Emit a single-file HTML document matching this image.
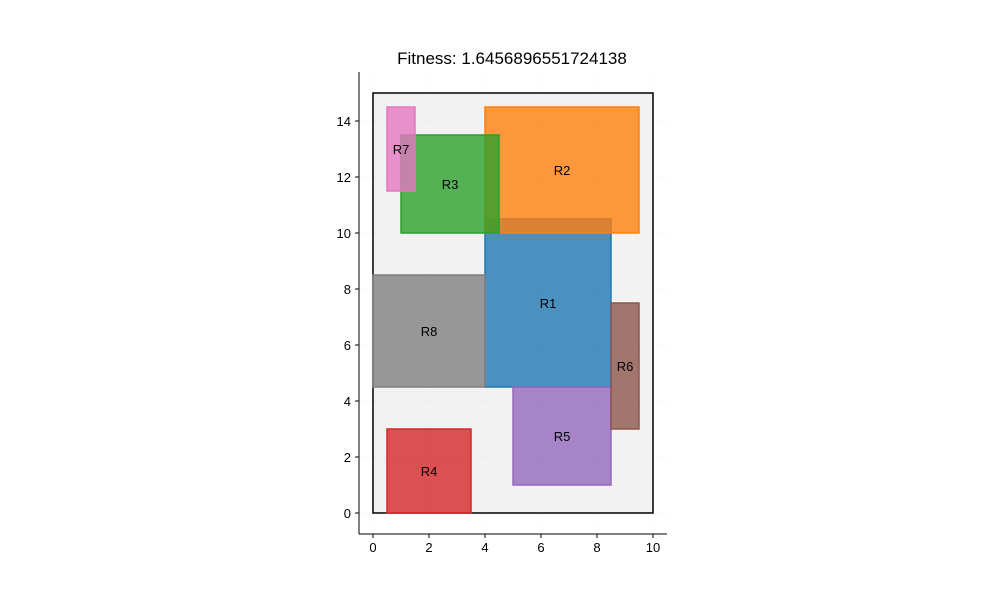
<!DOCTYPE html>
<html><head><meta charset="utf-8"><style>body{margin:0;background:#fff}svg{display:block;font-family:"Liberation Sans",sans-serif}</style></head>
<body>
<svg id="chart" width="1000" height="600" viewBox="0 0 1000 600">
<rect width="1000" height="600" fill="#fff"/>
<text x="512" y="64" text-anchor="middle" font-size="17" fill="#000">Fitness: 1.6456896551724138</text>
<g id="grid"></g><g id="marks"></g><g id="axes"></g>
</svg>
<script>
const names = ["R1","R2","R3","R4","R5","R6","R7","R8"];
const x0s = [4, 4, 1, 0.5, 5, 8.5, 0.5, 0];
const x1s = [8.5, 9.5, 4.5, 3.5, 8.5, 9.5, 1.5, 4];
const y0s = [4.5, 10, 10, 0, 1, 3, 11.5, 4.5];
const y1s = [10.5, 14.5, 13.5, 3, 4.5, 7.5, 14.5, 8.5];
const colors = ["#1f77b4","#ff7f0e","#2ca02c","#d62728","#9467bd","#8c564b","#e377c2","#7f7f7f"];
const container = [0, 10, 0, 15];
const xTicks = [0,2,4,6,8,10];
const yTicks = [0,2,4,6,8,10,12,14];
const NS="http://www.w3.org/2000/svg";
const X=v=>373+v*28, Y=v=>513-v*28;
function mk(t,a,p){const e=document.createElementNS(NS,t);for(const k in a)e.setAttribute(k,a[k]);p.appendChild(e);return e;}
const grid=document.getElementById('grid'),marks=document.getElementById('marks'),axes=document.getElementById('axes');
xTicks.forEach(t=>{const l=mk('line',{x1:X(t),x2:X(t),y1:72,y2:534,stroke:'#eee','stroke-width':0.5,'stroke-dasharray':'4,4'},grid);
});
yTicks.forEach(t=>{const l=mk('line',{x1:359,x2:667,y1:Y(t),y2:Y(t),stroke:'#eee','stroke-width':0.5,'stroke-dasharray':'4,4'},grid);
});
const c=mk('rect',{x:X(container[0]),y:Y(container[3]),width:X(container[1])-X(container[0]),height:Y(container[2])-Y(container[3]),fill:'rgba(128,128,128,0.1)',stroke:'#000','stroke-width':1.5},marks);

names.forEach((n,i)=>{
 const r=mk('rect',{x:X(x0s[i]),y:Y(y1s[i]),width:X(x1s[i])-X(x0s[i]),height:Y(y0s[i])-Y(y1s[i]),fill:colors[i],'fill-opacity':0.8,stroke:colors[i],'stroke-width':1.5},marks);
 
 const t=mk('text',{x:X((x0s[i]+x1s[i])/2),y:Y((y0s[i]+y1s[i])/2)+5,'text-anchor':'middle','font-size':13,fill:'#000'},marks);
 t.textContent=n;
});
let s=mk('line',{x1:359,x2:359,y1:72,y2:534,stroke:'#000','stroke-width':1},axes);

s=mk('line',{x1:359,x2:667,y1:534,y2:534,stroke:'#000','stroke-width':1},axes);

xTicks.forEach(t=>{mk('line',{x1:X(t),x2:X(t),y1:534,y2:538,stroke:'#000'},axes);
 const e=mk('text',{x:X(t),y:552,'text-anchor':'middle','font-size':13},axes);e.textContent=t;
 });
yTicks.forEach(t=>{mk('line',{x1:355,x2:359,y1:Y(t),y2:Y(t),stroke:'#000'},axes);
 const e=mk('text',{x:351,y:Y(t)+5,'text-anchor':'end','font-size':13},axes);e.textContent=t;
 });
</script>
</body></html>
